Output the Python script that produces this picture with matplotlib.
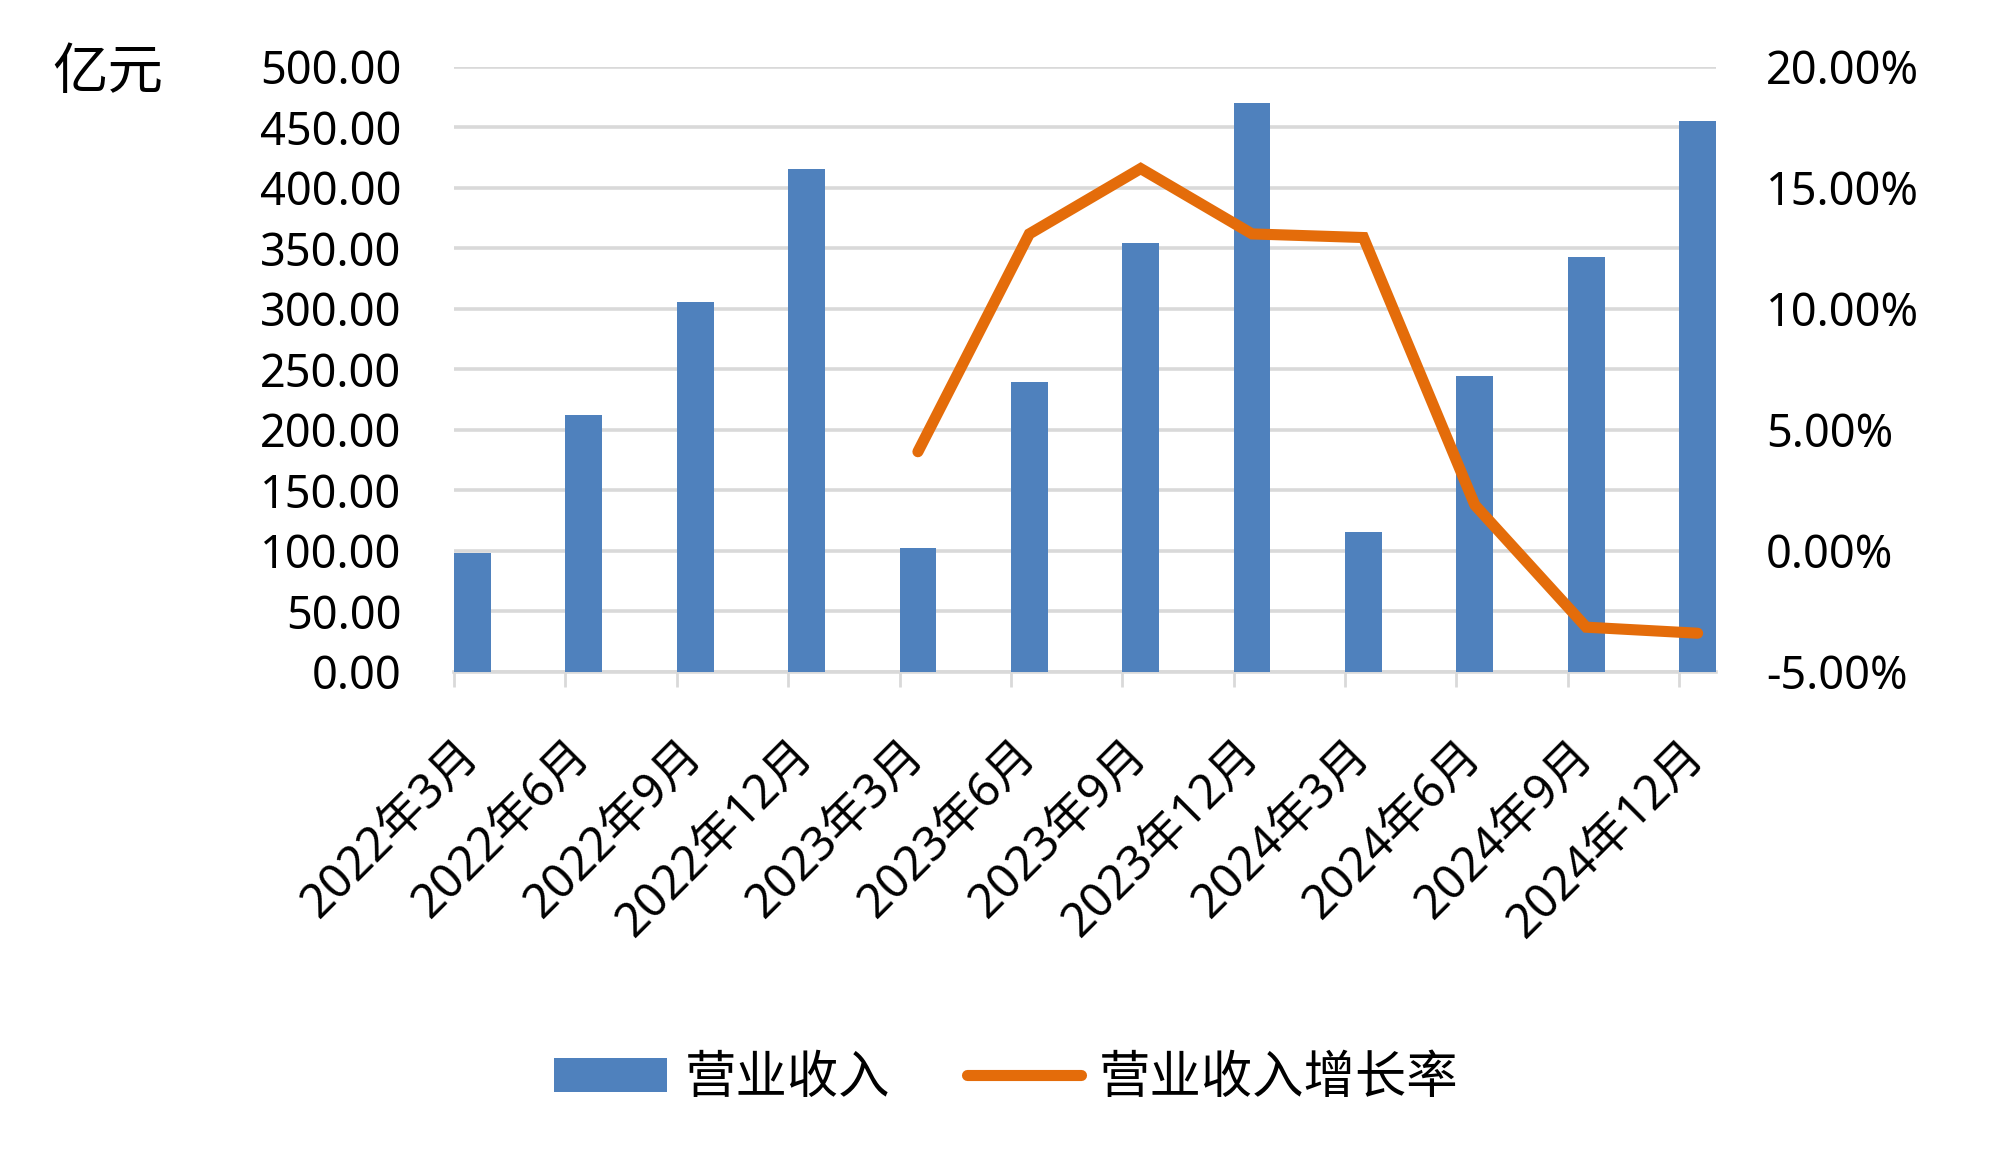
import matplotlib
matplotlib.use("Agg")
import matplotlib.pyplot as plt
import numpy as np
from matplotlib.ticker import FuncFormatter, FixedLocator

plt.rcParams['font.family'] = ['Noto Sans', 'Noto Sans CJK SC', 'DejaVu Sans']

# data
quarters = ['2022年3月', '2022年6月', '2022年9月', '2022年12月',
            '2023年3月', '2023年6月', '2023年9月', '2023年12月',
            '2024年3月', '2024年6月', '2024年9月', '2024年12月']
revenue = [98.5, 212, 306, 416, 102.5, 240, 354.5, 470.5, 116, 244.5, 343, 455]
growth = [None, None, None, None, 4.1, 13.1, 15.8, 13.1, 12.95, 1.9, -3.15, -3.4]

blue = '#4f81bd'
orange = '#e46c0a'
grid_c = '#d9d9d9'
bar_w = 0.33

fig = plt.figure(figsize=(20, 11.68), dpi=100)
ax = fig.add_axes([0.227, 0.4247, 0.631, 0.518])

x = np.arange(len(quarters))
ax.bar(x, revenue, width=bar_w, align='edge', color=blue, zorder=2, label='营业收入')
ax.set_xlim(0, len(quarters) - 1 + bar_w)
ax.set_ylim(0, 500)
ax.set_yticks(np.arange(0, 501, 50))
ax.yaxis.set_major_formatter(FuncFormatter(lambda v, p: '%.2f' % v))
ax.grid(axis='y', color=grid_c, linewidth=2.6)
ax.set_axisbelow(True)

for s in ['top', 'right', 'left']:
    ax.spines[s].set_visible(False)
ax.spines['bottom'].set_color(grid_c)
ax.spines['bottom'].set_linewidth(2.6)
ax.spines['bottom'].set_zorder(1)

# tick marks at category edges, labels under bar centres
ax.set_xticks(x + bar_w / 2)
ax.set_xticklabels(quarters, rotation=45, ha='right', va='center',
                   rotation_mode='anchor', fontsize=34)
ax.xaxis.set_minor_locator(FixedLocator(x))
ax.tick_params(axis='x', which='major', length=0, pad=55)
ax.tick_params(axis='x', which='minor', length=11, width=2, color=grid_c)
ax.tick_params(axis='y', length=0, pad=38, labelsize=32.5)

ax2 = ax.twinx()
gx = [xi + bar_w / 2 for xi, g in zip(x, growth) if g is not None]
gy = [g for g in growth if g is not None]
ax2.plot(gx, gy, color=orange, linewidth=8, solid_capstyle='round',
         solid_joinstyle='miter', zorder=3, label='营业收入增长率')
ax2.set_ylim(-5, 20)
ax2.set_yticks(np.arange(-5, 20.1, 5))
ax2.yaxis.set_major_formatter(FuncFormatter(lambda v, p: '%.2f%%' % v))
ax2.tick_params(axis='y', length=0, pad=36, labelsize=32.5)
for s in ax2.spines.values():
    s.set_visible(False)

fig.text(0.026, 0.937, '亿元', fontsize=40, va='center', ha='left',
         family=['Noto Sans CJK SC'])

h1, l1 = ax.get_legend_handles_labels()
h2, l2 = ax2.get_legend_handles_labels()
fig.legend(h1 + h2, l1 + l2, loc='center', bbox_to_anchor=(0.503, 0.077), ncol=2,
           frameon=False, prop={'family': ['Noto Sans CJK SC'], 'size': 37},
           handlelength=2.2, handleheight=0.65, handletextpad=0.35, columnspacing=1.5)

fig.savefig('out.png', dpi=100)
